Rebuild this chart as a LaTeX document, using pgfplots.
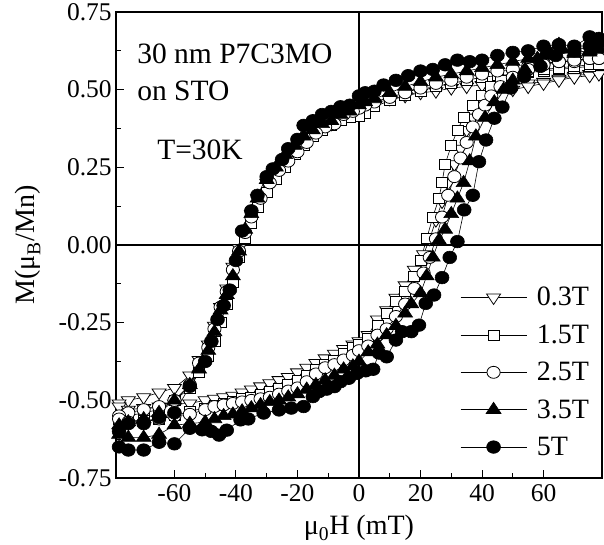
\documentclass[border=0pt]{standalone}
\usepackage{fontspec}
\setmainfont{Liberation Serif}[Scale=1.25]
\usepackage{pgfplots}
\pgfplotsset{compat=1.18}

% M-H loops, 30 nm P7C3MO on STO, T=30K
\pgfplotstableread{
x y
78 0.555
75 0.55
70 0.545
65 0.535
60 0.525
55 0.52
50 0.52
45 0.515
40 0.515
35 0.51
30 0.505
25 0.495
20 0.49
15 0.48
10 0.47
5 0.455
2 0.445
0 0.44
-3 0.42
-6 0.41
-9 0.39
-12 0.375
-15 0.36
-18 0.33
-21 0.30
-24 0.27
-27 0.24
-30 0.20
-33 0.15
-35 0.10
-37 0.05
-39 -0.01
-41 -0.07
-43 -0.14
-45 -0.20
-47 -0.26
-49 -0.32
-52 -0.37
-55 -0.42
-60 -0.46
-65 -0.475
-70 -0.49
-75 -0.50
-78 -0.51
-78 -0.52
-75 -0.53
-70 -0.525
-65 -0.52
-60 -0.51
-55 -0.51
-50 -0.50
-47 -0.495
-44 -0.49
-41 -0.485
-38 -0.475
-35 -0.465
-32 -0.455
-29 -0.445
-26 -0.435
-23 -0.425
-20 -0.41
-17 -0.395
-14 -0.38
-11 -0.365
-8 -0.35
-5 -0.335
-2 -0.32
0 -0.31
3 -0.29
6 -0.24
9 -0.21
12 -0.17
15 -0.13
18 -0.08
21 -0.03
23 0.02
25 0.08
27 0.14
29 0.20
31 0.26
33 0.31
35 0.37
37 0.41
39 0.44
42 0.47
45 0.49
50 0.50
55 0.51
60 0.52
65 0.53
70 0.54
75 0.545
78 0.55
}\datazerothree

\pgfplotstableread{
x y
78 0.58
75 0.575
70 0.57
65 0.565
60 0.56
55 0.555
50 0.55
45 0.545
40 0.54
35 0.53
30 0.52
25 0.51
20 0.495
15 0.48
10 0.465
5 0.445
2 0.425
0 0.415
-3 0.41
-6 0.40
-9 0.385
-12 0.37
-15 0.35
-18 0.32
-21 0.29
-24 0.25
-27 0.21
-30 0.17
-33 0.12
-35 0.07
-37 0.02
-39 -0.04
-41 -0.12
-43 -0.19
-45 -0.25
-47 -0.31
-49 -0.36
-52 -0.41
-55 -0.46
-60 -0.50
-65 -0.53
-70 -0.54
-75 -0.55
-78 -0.555
-78 -0.56
-75 -0.57
-70 -0.565
-65 -0.56
-60 -0.55
-55 -0.535
-50 -0.525
-47 -0.515
-44 -0.51
-41 -0.505
-38 -0.495
-35 -0.49
-32 -0.48
-29 -0.47
-26 -0.46
-23 -0.45
-20 -0.435
-17 -0.42
-14 -0.40
-11 -0.385
-8 -0.37
-5 -0.35
-2 -0.33
0 -0.32
3 -0.30
6 -0.26
9 -0.22
12 -0.18
15 -0.15
18 -0.10
20 -0.05
22 0.02
24 0.09
26 0.15
27 0.20
28 0.26
30 0.32
32 0.37
34 0.41
37 0.45
40 0.48
43 0.51
46 0.53
50 0.55
55 0.56
60 0.565
65 0.57
70 0.575
75 0.58
78 0.58
}\dataonefive

\pgfplotstableread{
x y
78 0.60
75 0.60
70 0.59
65 0.59
60 0.585
55 0.575
50 0.565
45 0.56
40 0.55
35 0.54
30 0.53
25 0.52
20 0.505
15 0.49
10 0.475
5 0.46
2 0.45
0 0.44
-2 0.43
-5 0.42
-8 0.39
-11 0.38
-14 0.36
-17 0.33
-20 0.30
-23 0.27
-26 0.24
-29 0.20
-32 0.15
-35 0.09
-37 0.04
-39 -0.02
-41 -0.08
-43 -0.15
-45 -0.20
-47 -0.27
-49 -0.33
-52 -0.38
-55 -0.45
-60 -0.50
-65 -0.52
-70 -0.53
-75 -0.54
-78 -0.55
-78 -0.56
-75 -0.57
-70 -0.57
-65 -0.56
-60 -0.55
-55 -0.545
-50 -0.53
-47 -0.52
-44 -0.515
-41 -0.51
-38 -0.505
-35 -0.50
-32 -0.495
-29 -0.49
-26 -0.48
-23 -0.47
-20 -0.46
-17 -0.44
-14 -0.415
-11 -0.395
-8 -0.385
-5 -0.37
-2 -0.355
0 -0.34
3 -0.325
6 -0.29
9 -0.27
12 -0.23
15 -0.19
18 -0.14
21 -0.09
23 -0.04
25 0.02
27 0.09
29 0.16
31 0.22
33 0.28
35 0.33
37 0.38
39 0.42
41 0.45
43 0.48
46 0.51
50 0.54
55 0.565
60 0.58
65 0.59
70 0.595
75 0.60
78 0.60
}\datatwofive

\pgfplotstableread{
x y
78 0.63
75 0.62
70 0.615
65 0.645
60 0.61
55 0.60
50 0.59
45 0.58
40 0.57
35 0.56
30 0.55
25 0.54
20 0.525
15 0.51
10 0.49
5 0.47
2 0.46
0 0.45
-3 0.43
-6 0.42
-9 0.40
-12 0.39
-15 0.37
-18 0.35
-21 0.32
-24 0.29
-27 0.25
-30 0.21
-33 0.15
-35 0.10
-37 0.05
-39 -0.02
-41 -0.10
-43 -0.16
-45 -0.21
-47 -0.28
-49 -0.34
-52 -0.40
-55 -0.45
-60 -0.50
-65 -0.54
-70 -0.56
-75 -0.57
-78 -0.58
-78 -0.61
-75 -0.62
-70 -0.62
-65 -0.61
-60 -0.58
-55 -0.575
-50 -0.57
-47 -0.56
-44 -0.55
-41 -0.545
-38 -0.535
-35 -0.525
-32 -0.515
-29 -0.505
-26 -0.50
-23 -0.49
-20 -0.48
-17 -0.465
-14 -0.45
-11 -0.435
-8 -0.42
-5 -0.40
-2 -0.39
0 -0.375
3 -0.345
6 -0.32
9 -0.29
12 -0.26
15 -0.22
17 -0.19
20 -0.155
22 -0.10
24 -0.04
26 0.015
28 0.05
30 0.10
32 0.15
34 0.20
36 0.27
38 0.35
41 0.41
44 0.46
47 0.50
50 0.53
54 0.565
58 0.60
62 0.62
66 0.63
70 0.62
75 0.625
78 0.63
}\datathreefive

\pgfplotstableread{
x y
78 0.665
75 0.67
70 0.64
65 0.645
60 0.64
55 0.625
50 0.62
45 0.61
40 0.595
36 0.59
32 0.595
28 0.58
24 0.565
20 0.56
16 0.545
12 0.53
8 0.515
5 0.495
2 0.49
0 0.48
-3 0.45
-6 0.445
-9 0.43
-12 0.42
-15 0.40
-18 0.385
-20 0.34
-23 0.31
-25 0.275
-28 0.245
-30 0.22
-33 0.16
-35 0.11
-38 0.045
-40 -0.05
-42 -0.145
-44 -0.195
-46 -0.24
-48 -0.31
-50 -0.375
-55 -0.455
-60 -0.54
-65 -0.555
-70 -0.575
-75 -0.575
-78 -0.60
-78 -0.65
-75 -0.66
-70 -0.66
-65 -0.635
-60 -0.64
-55 -0.59
-51 -0.595
-48 -0.60
-45.5 -0.612
-43 -0.596
-38.5 -0.563
-36 -0.56
-31 -0.541
-26 -0.531
-22 -0.525
-18 -0.52
-15 -0.488
-13 -0.472
-10.5 -0.464
-8 -0.456
-6 -0.44
-3.3 -0.429
-0.6 -0.413
2.2 -0.405
4.6 -0.40
6.5 -0.348
9 -0.36
12 -0.306
14 -0.279
17 -0.279
19.5 -0.258
21.7 -0.188
24.4 -0.161
27 -0.105
29.5 -0.04
32 0.011
34.2 0.113
37 0.16
39 0.268
41.3 0.338
44 0.408
46.6 0.444
49.4 0.505
53.7 0.542
59 0.575
64 0.61
70 0.625
75 0.64
78 0.65
}\datafive

\begin{document}
\begin{tikzpicture}
\begin{axis}[
  scale only axis,
  width=486pt, height=466pt,
  xmin=-79, xmax=79,
  ymin=-0.75, ymax=0.75,
  axis line style={line width=1.3pt},
  tick style={black, line width=1pt},
  tick align=inside,
  tick pos=left,
  major tick length=8pt,
  minor tick length=5pt,
  xtick={-60,-40,-20,0,20,40,60},
  ytick={-0.75,-0.5,-0.25,0,0.25,0.5,0.75},
  minor x tick num=1,
  minor y tick num=1,
  /pgf/number format/assume math mode=true,
  yticklabel style={/pgf/number format/.cd, fixed, fixed zerofill, precision=2},
  ticklabel style={font=\fontsize{20.4}{24}\selectfont},
  xticklabel style={yshift=-2pt},
  xlabel={μ\textsubscript{0}H (mT)},
  ylabel={M(μ\textsubscript{B}/Mn)},
  label style={font=\fontsize{22.4}{27}\selectfont},
  xlabel style={at={(axis description cs:0.5,-0.107)}, anchor=center},
  ylabel style={at={(axis description cs:-0.181,0.5)}, anchor=center},
  every axis plot/.append style={black, line width=0.6pt},
  legend style={draw=none, fill=none, at={(axis description cs:0.708,0.04)}, anchor=south west,
    font=\fontsize{22.4}{27}\selectfont, row sep=13pt, inner sep=0pt,
    /tikz/every odd column/.append style={column sep=8pt}},
  legend cell align=left,
  legend image code/.code={\draw[mark repeat=2, mark phase=2] plot coordinates {(0pt,0pt) (33pt,0pt) (66pt,0pt)};},
]
\addplot[forget plot, line width=1.2pt] coordinates {(0,-0.75) (0,0.75)};
\addplot[forget plot, line width=1.2pt] coordinates {(-79,0) (79,0)};

\addplot[mark=triangle*, mark size=7pt, mark options={fill=white, rotate=180, xscale=1.15, line width=0.8pt}] table[x=x, y=y] {\datazerothree};
\addlegendentry{0.3T}
\addplot[mark=square*, mark size=5pt, mark options={fill=white, xscale=1.1, line width=0.8pt}] table[x=x, y=y] {\dataonefive};
\addlegendentry{1.5T}
\addplot[mark=*, mark size=6pt, mark options={fill=white, xscale=1.1, line width=0.8pt}] table[x=x, y=y] {\datatwofive};
\addlegendentry{2.5T}
\addplot[mark=triangle*, mark size=7.5pt, mark options={fill=black, xscale=1.15}] table[x=x, y=y] {\datathreefive};
\addlegendentry{3.5T}
\addplot[mark=*, mark size=6.3pt, mark options={fill=black, xscale=1.1}] table[x=x, y=y] {\datafive};
\addlegendentry{5T}

\node[anchor=west, font=\fontsize{23.6}{28}\selectfont] at (axis description cs:0.035,0.91) {30 nm P7C3MO};
\node[anchor=west, font=\fontsize{23.6}{28}\selectfont] at (axis description cs:0.035,0.83) {on STO};
\node[anchor=west, font=\fontsize{23.6}{28}\selectfont] at (axis description cs:0.076,0.704) {T=30K};
\end{axis}
\pgfresetboundingbox
\path (-116pt,-67pt) rectangle (488pt,478pt);
\end{tikzpicture}
\end{document}
